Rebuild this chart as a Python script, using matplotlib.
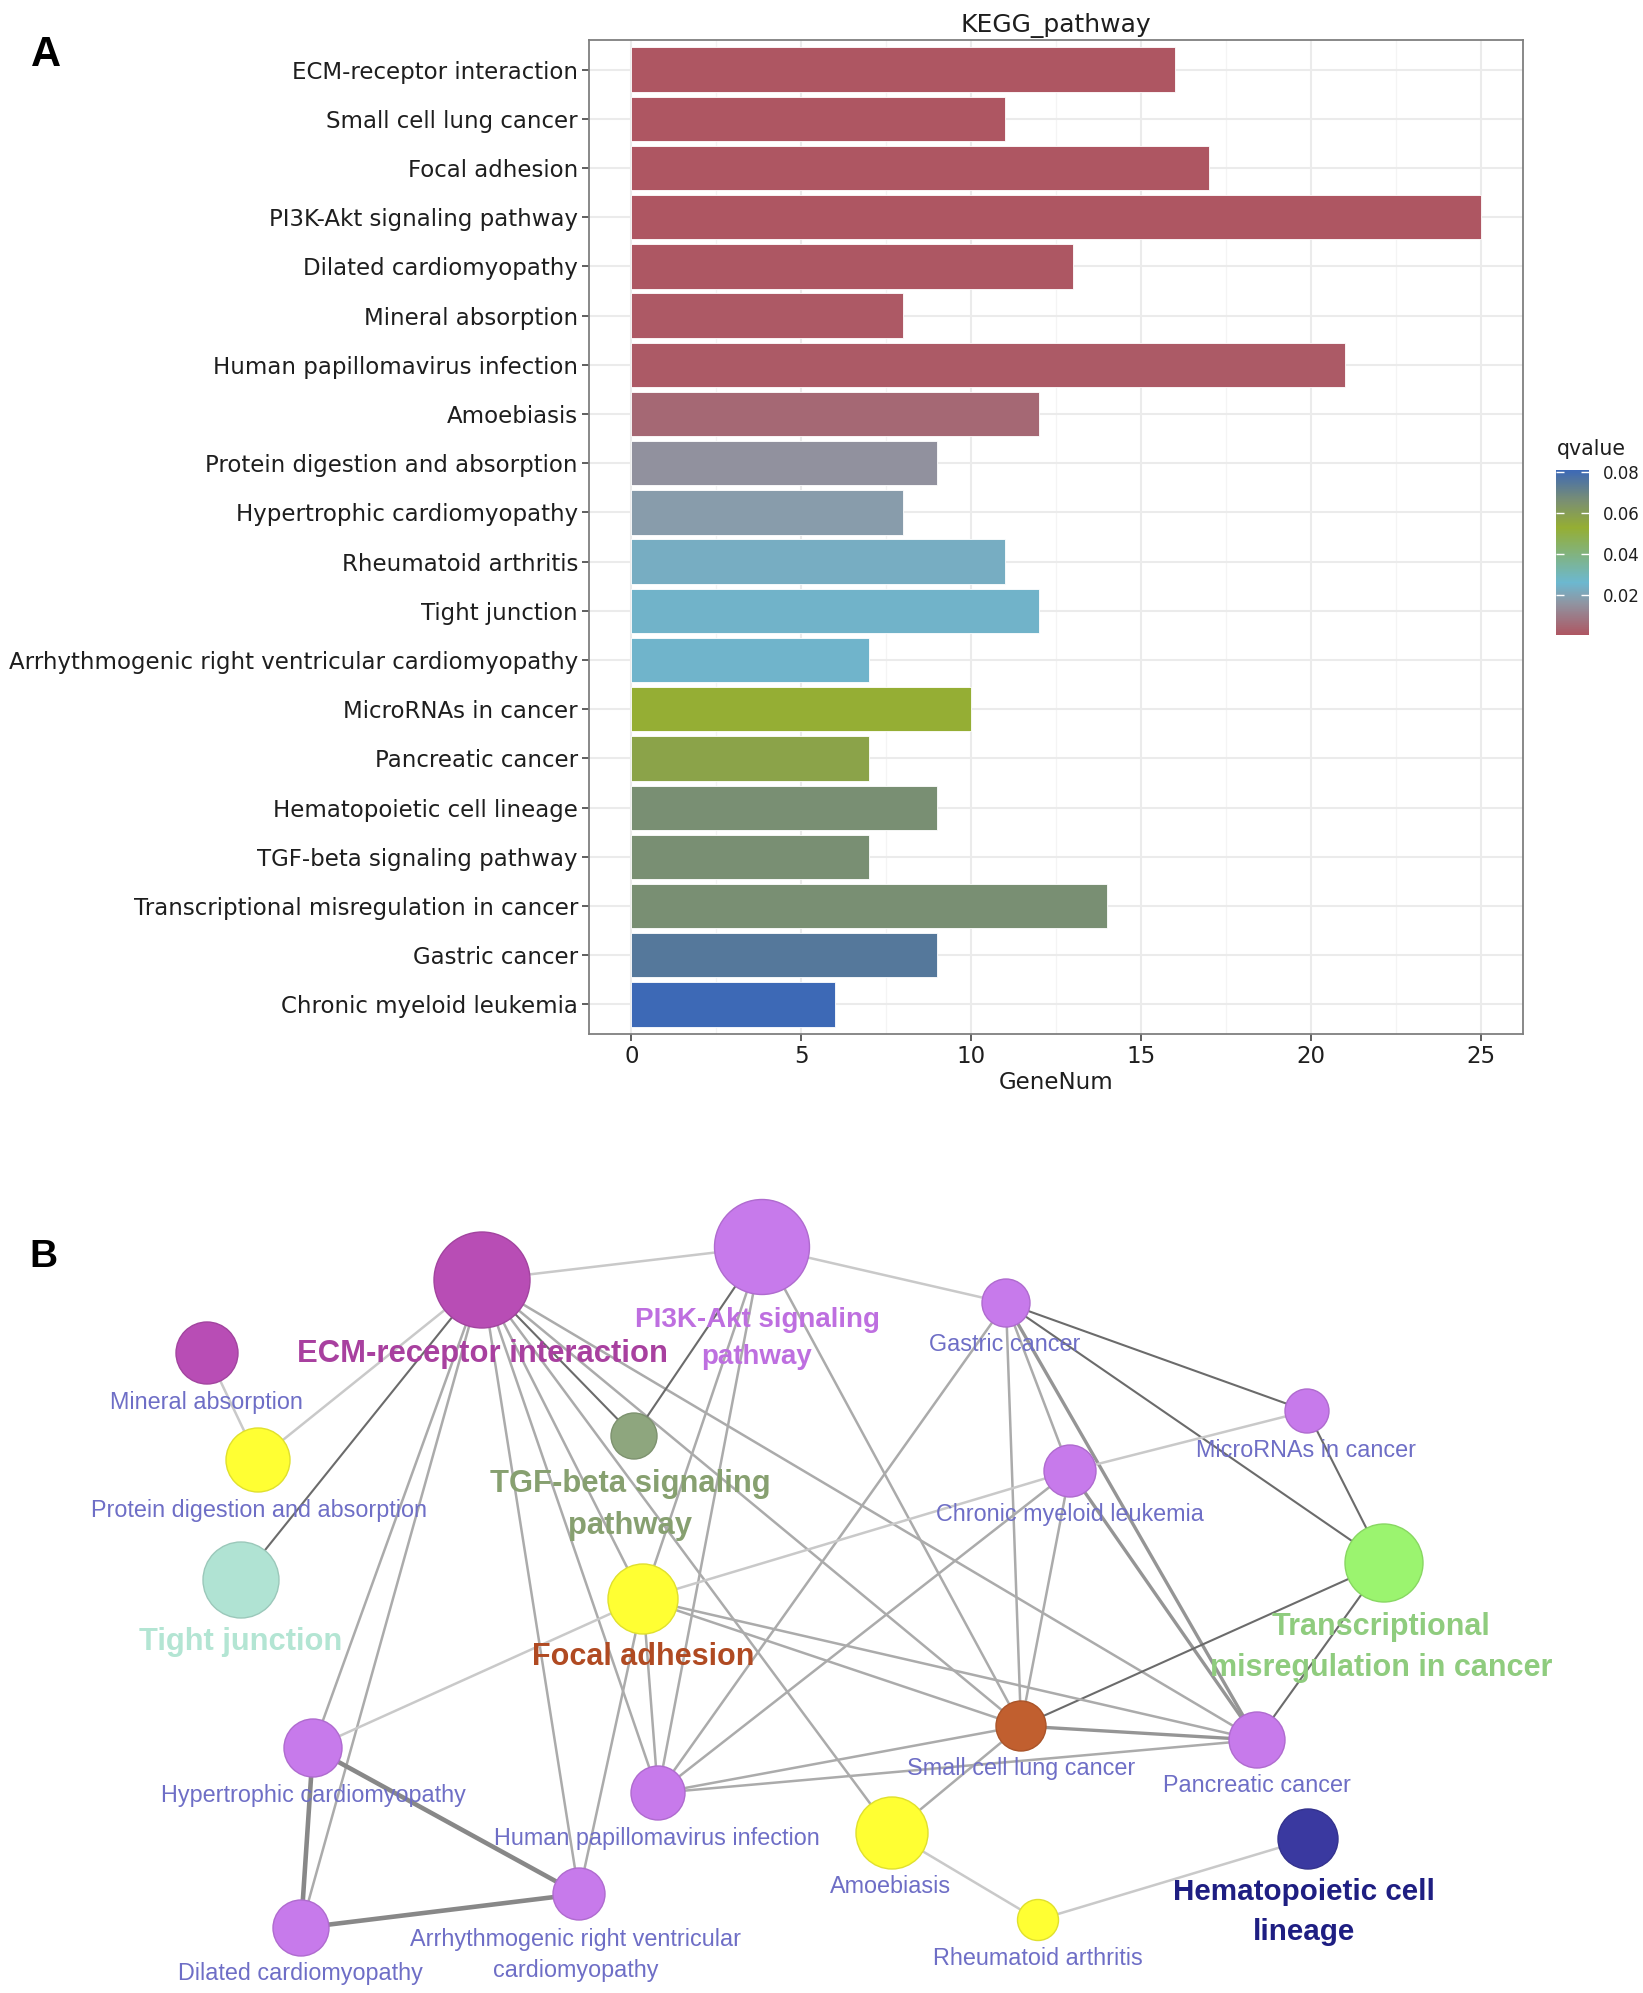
import numpy as np
import matplotlib
matplotlib.use("Agg")
import matplotlib.pyplot as plt
from matplotlib.colors import LinearSegmentedColormap, Normalize
from matplotlib.cm import ScalarMappable
from matplotlib.patches import Circle

# ---------------- Panel A data ----------------
pathways = ["ECM-receptor interaction", "Small cell lung cancer", "Focal adhesion",
            "PI3K-Akt signaling pathway", "Dilated cardiomyopathy", "Mineral absorption",
            "Human papillomavirus infection", "Amoebiasis", "Protein digestion and absorption",
            "Hypertrophic cardiomyopathy", "Rheumatoid arthritis", "Tight junction",
            "Arrhythmogenic right ventricular cardiomyopathy", "MicroRNAs in cancer",
            "Pancreatic cancer", "Hematopoietic cell lineage", "TGF-beta signaling pathway",
            "Transcriptional misregulation in cancer", "Gastric cancer", "Chronic myeloid leukemia"]
gene_num = [16, 11, 17, 25, 13, 8, 21, 12, 9, 8, 11, 12, 7, 10, 7, 9, 7, 14, 9, 6]
qvalue = [0.0005, 0.0006, 0.0007, 0.0008, 0.0010, 0.0012, 0.0015, 0.0050, 0.0150, 0.0180,
          0.0230, 0.0245, 0.0250, 0.0530, 0.0575, 0.0660, 0.0660, 0.0662, 0.0750, 0.0810]
x_ticks = [0, 5, 10, 15, 20, 25]
cbar_ticks = [0.02, 0.04, 0.06, 0.08]

# gradient used for the qvalue fill scale
grad_q = [0.0005, 0.016, 0.026, 0.053, 0.066, 0.081]
grad_colors = ["#AE5662", "#8F95A2", "#6CB8D0", "#95AE33", "#7A8F72", "#3D69B6"]

# ---------------- Panel B data ----------------
node_names = ["ECM-receptor interaction", "PI3K-Akt signaling pathway", "Mineral absorption",
              "Protein digestion and absorption", "TGF-beta signaling pathway", "Tight junction",
              "Focal adhesion", "Gastric cancer", "MicroRNAs in cancer", "Chronic myeloid leukemia",
              "Transcriptional misregulation in cancer", "Hypertrophic cardiomyopathy",
              "Human papillomavirus infection", "Small cell lung cancer", "Pancreatic cancer",
              "Arrhythmogenic right ventricular cardiomyopathy", "Dilated cardiomyopathy",
              "Amoebiasis", "Rheumatoid arthritis", "Hematopoietic cell lineage"]
node_x = [482, 762, 207, 258, 634, 241, 643, 1006, 1307, 1070, 1384, 313, 658, 1021, 1257, 579, 301, 892, 1038, 1308]
node_y = [1280, 1247, 1353, 1460, 1436, 1580, 1599, 1303, 1411, 1471, 1563, 1748, 1793, 1726, 1740, 1894, 1928, 1833, 1920, 1839]
node_r = [48, 47.5, 31, 32, 23, 38, 35, 24, 22, 26, 39, 29, 27, 25, 28, 26, 28, 36, 20.5, 30]
node_color = ["#B84DB5", "#C77AEB", "#B84DB5", "#FFFF33", "#8EA67E", "#B0E3D3", "#FFFF33",
              "#C77AEB", "#C77AEB", "#C77AEB", "#9BF46F", "#C77AEB", "#C77AEB", "#C15F2F",
              "#C77AEB", "#C77AEB", "#C77AEB", "#FFFF33", "#FFFF33", "#3A39A0"]

label_text = ["ECM-receptor interaction", "PI3K-Akt signaling\npathway", "Mineral absorption",
              "Protein digestion and absorption", "TGF-beta signaling\npathway", "Tight junction",
              "Focal adhesion", "Gastric cancer", "MicroRNAs in cancer", "Chronic myeloid leukemia",
              "Transcriptional\nmisregulation in cancer", "Hypertrophic cardiomyopathy",
              "Human papillomavirus infection", "Small cell lung cancer", "Pancreatic cancer",
              "Arrhythmogenic right ventricular\ncardiomyopathy", "Dilated cardiomyopathy",
              "Amoebiasis", "Rheumatoid arthritis", "Hematopoietic cell\nlineage"]
label_x = [482, 757, 206, 259, 630, 241, 643, 1005, 1306, 1070, 1381, 313, 657, 1021, 1257, 576, 300, 891, 1038, 1304]
label_y = [1362, 1327, 1409, 1517, 1492, 1650, 1665, 1351, 1457, 1521, 1635, 1802, 1845, 1775, 1792, 1946, 1980, 1893, 1965, 1900]
label_bold = [1, 1, 0, 0, 1, 1, 1, 0, 0, 0, 1, 0, 0, 0, 0, 0, 0, 0, 0, 1]
label_color = ["#A8409F", "#BE6FE0", None, None, "#87A070", "#B3E5D3", "#B04A22", None, None, None,
               "#8FCC7E", None, None, None, None, None, None, None, None, "#1E1E82"]
label_size = [22.3, 20.0, 16.8, 16.8, 22.3, 22.2, 22.0, 16.8, 16.8, 16.8, 22.0, 16.8, 16.8, 16.8,
              16.8, 16.8, 16.8, 16.8, 16.8, 21.3]

edge_src = ["ECM-receptor interaction"] * 12 + ["Mineral absorption"] + ["PI3K-Akt signaling pathway"] * 5 + \
           ["Gastric cancer"] * 6 + ["MicroRNAs in cancer"] * 2 + ["Chronic myeloid leukemia"] * 4 + \
           ["Transcriptional misregulation in cancer"] * 2 + ["Focal adhesion"] * 5 + \
           ["Human papillomavirus infection"] * 2 + ["Small cell lung cancer"] * 2 + \
           ["Amoebiasis", "Rheumatoid arthritis", "Hypertrophic cardiomyopathy", "Hypertrophic cardiomyopathy",
            "Dilated cardiomyopathy"]
edge_dst = ["PI3K-Akt signaling pathway", "Protein digestion and absorption", "Tight junction",
            "TGF-beta signaling pathway", "Hypertrophic cardiomyopathy", "Dilated cardiomyopathy",
            "Arrhythmogenic right ventricular cardiomyopathy", "Human papillomavirus infection",
            "Focal adhesion", "Small cell lung cancer", "Amoebiasis", "Pancreatic cancer",
            "Protein digestion and absorption",
            "TGF-beta signaling pathway", "Focal adhesion", "Human papillomavirus infection",
            "Small cell lung cancer", "Gastric cancer",
            "MicroRNAs in cancer", "Transcriptional misregulation in cancer", "Chronic myeloid leukemia",
            "Pancreatic cancer", "Small cell lung cancer", "Human papillomavirus infection",
            "Transcriptional misregulation in cancer", "Chronic myeloid leukemia",
            "Pancreatic cancer", "Small cell lung cancer", "Human papillomavirus infection", "Focal adhesion",
            "Small cell lung cancer", "Pancreatic cancer",
            "Hypertrophic cardiomyopathy", "Small cell lung cancer", "Pancreatic cancer",
            "Human papillomavirus infection", "Arrhythmogenic right ventricular cardiomyopathy",
            "Small cell lung cancer", "Pancreatic cancer",
            "Pancreatic cancer", "Amoebiasis",
            "Rheumatoid arthritis", "Hematopoietic cell lineage", "Dilated cardiomyopathy",
            "Arrhythmogenic right ventricular cardiomyopathy", "Arrhythmogenic right ventricular cardiomyopathy"]
edge_weight = [1, 1, 3, 3, 2, 2, 2, 2, 2, 2, 2, 2,
               1,
               3, 2, 2, 2, 1,
               3, 3, 2, 5, 2, 2,
               3, 1,
               5, 2, 2, 1,
               3, 3,
               1, 2, 2, 2, 2,
               2, 2,
               5, 2,
               1, 1, 4, 4, 4]

# ---------------- figure ----------------
W, H = 1643, 1993
fig = plt.figure(figsize=(W / 100, H / 100), dpi=100)
fig.patch.set_facecolor("white")

grad_norm_pos = [(q - grad_q[0]) / (grad_q[-1] - grad_q[0]) for q in grad_q]
cmap = LinearSegmentedColormap.from_list("qcmap", list(zip(grad_norm_pos, grad_colors)))
norm = Normalize(vmin=min(qvalue), vmax=max(qvalue))

ax = fig.add_axes([589 / W, 1 - 1034 / H, 934 / W, 994 / H])
ypos = np.arange(len(pathways))
ax.barh(ypos, gene_num, height=0.9, color=cmap(norm(np.array(qvalue))),
        edgecolor="white", linewidth=0.6, zorder=3)
ax.set_xlim(-1.25, 26.25)
ax.set_ylim(len(pathways) - 0.4, -0.6)
ax.set_xticks(x_ticks)
ax.set_xticks([t + 2.5 for t in x_ticks[:-1]], minor=True)
ax.set_yticks(ypos)
ax.set_yticklabels(pathways)
ax.grid(which="major", color="#EBEBEB", linewidth=1.5, zorder=0)
ax.grid(which="minor", axis="x", color="#F4F4F4", linewidth=0.9, zorder=0)
ax.set_axisbelow(True)
for s in ax.spines.values():
    s.set_color("#7F7F7F")
    s.set_linewidth(1.3)
ax.tick_params(which="major", length=5, width=1.1, color="#333333", labelsize=16.5,
               labelcolor="#1E1E1E", pad=3)
ax.tick_params(which="minor", length=0)
ax.set_title("KEGG_pathway", fontsize=18, color="#1E1E1E", pad=6)
ax.set_xlabel("GeneNum", fontsize=16.5, color="#1E1E1E", labelpad=2)

cax = fig.add_axes([1556 / W, 1 - 635 / H, 33 / W, 165 / H])
cb = fig.colorbar(ScalarMappable(norm=norm, cmap=cmap), cax=cax, ticks=cbar_ticks)
cb.outline.set_visible(False)
cb.ax.set_yticklabels([f"{t:.2f}" for t in cbar_ticks])
cax.tick_params(direction="in", length=6, width=1, color="white", labelsize=12,
                labelcolor="#1E1E1E", left=True, right=True, pad=10)
fig.text(1557 / W, 1 - 449 / H, "qvalue", fontsize=14.8, color="#1E1E1E", ha="left", va="center")

fig.text(46 / W, 1 - 55 / H, "A", fontsize=30, fontweight="bold", family="Liberation Sans",
         ha="center", va="center")
fig.text(43 / W, 1 - 1257 / H, "B", fontsize=28, fontweight="bold", family="Liberation Sans",
         ha="center", va="center")

# ---------------- Panel B network ----------------
top = 1150
ax2 = fig.add_axes([0, 0, 1, (H - top) / H])
ax2.set_xlim(0, W)
ax2.set_ylim(H, top)
ax2.axis("off")

edge_style = {1: ("#C9C9C9", 1.8), 2: ("#ABABAB", 1.8), 3: ("#6B6B6B", 1.5),
              4: ("#888888", 3.3), 5: ("#959595", 2.4)}
idx = {n: i for i, n in enumerate(node_names)}
for a, b, w in zip(edge_src, edge_dst, edge_weight):
    i, j = idx[a], idx[b]
    col, lw = edge_style[w]
    ax2.plot([node_x[i], node_x[j]], [node_y[i], node_y[j]], color=col, lw=lw,
             solid_capstyle="round", zorder=1)

for x, y, r, c in zip(node_x, node_y, node_r, node_color):
    edge = tuple(max(0, v * 0.88) for v in matplotlib.colors.to_rgb(c))
    ax2.add_patch(Circle((x, y), r, facecolor=c, edgecolor=edge, linewidth=1.0, zorder=2))

small_col = "#6E6EC6"
for txt, x, y, b, c, s in zip(label_text, label_x, label_y, label_bold, label_color, label_size):
    for k, line in enumerate(txt.split("\n")):
        ax2.text(x, y + k * 41 * (s / 22.0 if b else 31 / 41), line, ha="center", va="baseline",
                 fontsize=s, family="Liberation Sans",
                 fontweight="bold" if b else "normal",
                 color=c if c else small_col, zorder=3)

fig.savefig("out.png", dpi=100, facecolor="white")
